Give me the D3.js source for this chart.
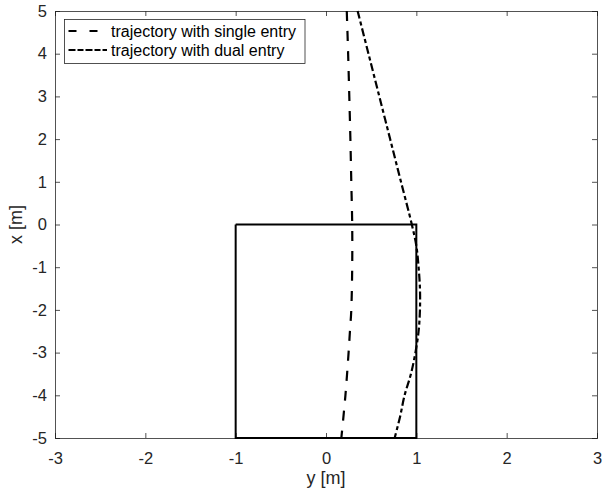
<!DOCTYPE html>
<html><head><meta charset="utf-8">
<script src="https://cdn.jsdelivr.net/npm/d3@7"></script>
<style>body{margin:0;background:#fff}svg{display:block;font-family:"Liberation Sans",Arial,sans-serif}</style>
</head><body><svg id="c" width="603" height="493"></svg>
<script>
const xTicks = [-3,-2,-1,0,1,2,3];
const yTicks = [-5,-4,-3,-2,-1,0,1,2,3,4,5];
const boxX = [-1, 1, 1, -1, -1];
const boxY = [0, 0, -5, -5, 0];
const singleX = [5, 4, 3, 2, 1, 0, -1, -2, -2.5, -3, -4, -5];
const singleY = [0.23, 0.245, 0.258, 0.27, 0.28, 0.29, 0.29, 0.28, 0.265, 0.25, 0.215, 0.17];
const dualX = [5, 4, 3, 2, 1, 0, -0.5, -1, -1.5, -2, -2.5, -3, -3.5, -4, -4.5, -5];
const dualY = [0.35, 0.47, 0.59, 0.71, 0.83, 0.95, 1.0, 1.025, 1.04, 1.04, 1.025, 0.99, 0.94, 0.87, 0.82, 0.76];
const labels = ["trajectory with single entry", "trajectory with dual entry"];

const svg = d3.select("#c");
const L = 55, R = 597, T = 11, B = 438;
const x = d3.scaleLinear().domain([-3,3]).range([L,R]);
const y = d3.scaleLinear().domain([-5,5]).range([B,T]);
const ax = "#262626";
const fmt = d => String(d);

svg.append("rect").attr("x",L).attr("y",T).attr("width",R-L).attr("height",B-T).attr("fill","#fff");

const g = svg.append("g");
g.append("g").attr("transform",`translate(0,${B})`).call(d3.axisBottom(x).tickValues(xTicks).tickSize(-5).tickPadding(14).tickFormat(fmt));
g.append("g").attr("transform",`translate(0,${T})`).call(d3.axisTop(x).tickValues(xTicks).tickSize(-5).tickFormat(""));
g.append("g").attr("transform",`translate(${L},0)`).call(d3.axisLeft(y).tickValues(yTicks).tickSize(-5).tickPadding(8).tickFormat(fmt));
g.append("g").attr("transform",`translate(${R},0)`).call(d3.axisRight(y).tickValues(yTicks).tickSize(-5).tickFormat(""));
g.selectAll(".domain").attr("stroke",ax).attr("stroke-width",0.8);
g.selectAll(".tick line").attr("stroke",ax).attr("stroke-width",0.8);
g.selectAll(".tick text").attr("fill","#262626").attr("font-size",16.5).attr("font-family","Liberation Sans, Arial, sans-serif");

const line = d3.line().x(d=>x(d[0])).y(d=>y(d[1]));
svg.append("path").datum(boxX.map((v,i)=>[v,boxY[i]])).attr("d",line).attr("fill","none").attr("stroke","#000").attr("stroke-width",2);

const cl = d3.line().x(d=>x(d[0])).y(d=>y(d[1])).curve(d3.curveCatmullRom);
const dashes = ["10,10","8,3,4,3"];
svg.append("path").datum(singleX.map((v,i)=>[singleY[i],v])).attr("d",cl).attr("fill","none").attr("stroke","#000").attr("stroke-width",2.2).attr("stroke-dasharray",dashes[0]);
svg.append("path").datum(dualX.map((v,i)=>[dualY[i],v])).attr("d",cl).attr("fill","none").attr("stroke","#000").attr("stroke-width",2.2).attr("stroke-dasharray",dashes[1]);

// legend
const lg = svg.append("g");
lg.append("rect").attr("x",64.5).attr("y",19.5).attr("width",240.5).attr("height",44).attr("fill","#fff").attr("stroke",ax).attr("stroke-width",0.8);
const legDash = ["8,13","7,2,6,2"];
labels.forEach((t,i)=>{
  const yy = 31 + i*19;
  lg.append("line").attr("x1",68.5).attr("x2",107).attr("y1",yy).attr("y2",yy).attr("stroke","#000").attr("stroke-width",2.2).attr("stroke-dasharray",legDash[i]);
  lg.append("text").attr("x",111).attr("y",yy+5.8).attr("font-size",16).attr("fill","#000").text(t);
});

svg.append("text").attr("x",(L+R)/2).attr("y",484).attr("text-anchor","middle").attr("font-size",18).attr("fill","#262626").text("y [m]");
svg.append("text").attr("transform",`translate(22,${(T+B)/2}) rotate(-90)`).attr("text-anchor","middle").attr("font-size",18).attr("fill","#262626").text("x [m]");
</script></body></html>
